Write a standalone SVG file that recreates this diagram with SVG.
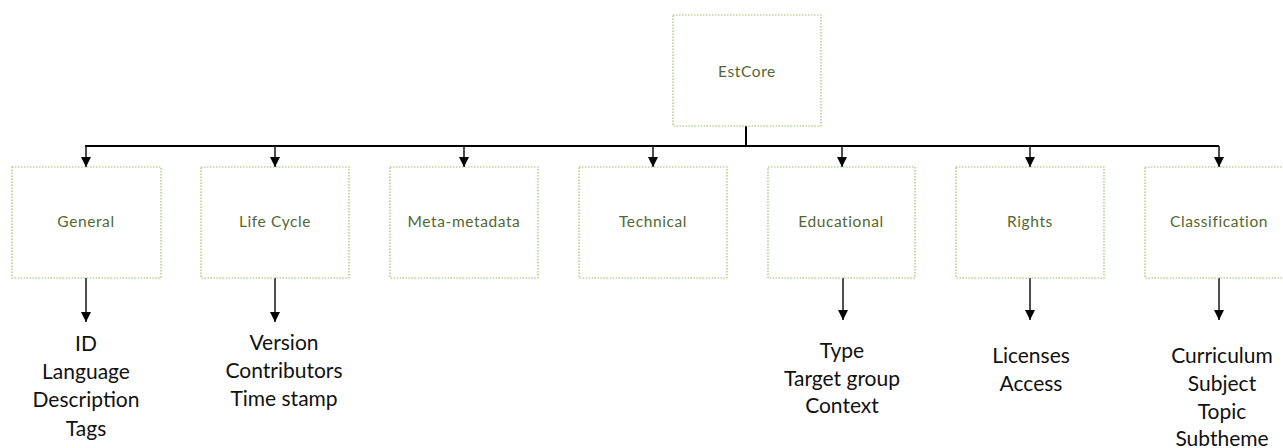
<svg xmlns="http://www.w3.org/2000/svg" width="1283" height="448" viewBox="0 0 1283 448">
  <style>
    .box { fill: #ffffff; stroke: #9cc161; stroke-width: 1.2; stroke-dasharray: 1.5 1.5; }
    .lbl { font-family: Lato, "Open Sans", sans-serif; font-size: 15.5px; letter-spacing: 0.6px; fill: #536733; text-anchor: middle; }
    .item { font-family: Lato, "Open Sans", sans-serif; font-size: 21px; fill: #111111; text-anchor: middle; }
    .bus { stroke: #000000; stroke-width: 2; fill: none; }
    .arr { stroke: #222222; stroke-width: 1.6; fill: none; marker-end: url(#head); }
  </style>
  <defs>
    <marker id="head" viewBox="0 0 10 10" refX="10" refY="5" markerWidth="10" markerHeight="10" markerUnits="userSpaceOnUse" orient="auto">
      <path d="M0,0 L10,5 L0,10 Z" fill="#000000"/>
    </marker>
  </defs>
  <rect width="1283" height="448" fill="#ffffff"/>

  <g id="connectors">
    <line class="bus" x1="746" y1="126" x2="746" y2="146"/>
    <line class="bus" x1="85" y1="146" x2="1219" y2="146"/>
    <line class="arr" x1="86" y1="146" x2="86" y2="167"/>
    <line class="arr" x1="275" y1="146" x2="275" y2="167"/>
    <line class="arr" x1="464" y1="146" x2="464" y2="167"/>
    <line class="arr" x1="653" y1="146" x2="653" y2="167"/>
    <line class="arr" x1="842" y1="146" x2="842" y2="167"/>
    <line class="arr" x1="1030" y1="146" x2="1030" y2="167"/>
    <line class="arr" x1="1219" y1="146" x2="1219" y2="167"/>
    <line class="arr" x1="86" y1="278" x2="86" y2="322"/>
    <line class="arr" x1="275" y1="278" x2="275" y2="322"/>
    <line class="arr" x1="843" y1="278" x2="843" y2="320"/>
    <line class="arr" x1="1030" y1="278" x2="1030" y2="320"/>
    <line class="arr" x1="1219" y1="278" x2="1219" y2="320"/>
  </g>

  <g id="estcore">
    <rect class="box" x="673" y="15" width="148" height="111"/>
    <text class="lbl" x="747" y="77">EstCore</text>
  </g>

  <g id="general">
    <rect class="box" x="12" y="167" width="149" height="111"/>
    <text class="lbl" x="86" y="227">General</text>
    <text class="item" x="86" y="351">ID</text>
    <text class="item" x="86" y="379">Language</text>
    <text class="item" x="86" y="407">Description</text>
    <text class="item" x="86" y="436">Tags</text>
  </g>

  <g id="life-cycle">
    <rect class="box" x="201" y="167" width="148" height="111"/>
    <text class="lbl" x="275" y="227">Life Cycle</text>
    <text class="item" x="284" y="350">Version</text>
    <text class="item" x="284" y="378">Contributors</text>
    <text class="item" x="284" y="406">Time stamp</text>
  </g>

  <g id="meta-metadata">
    <rect class="box" x="390" y="167" width="148" height="111"/>
    <text class="lbl" x="464" y="227">Meta-metadata</text>
  </g>

  <g id="technical">
    <rect class="box" x="579" y="167" width="148" height="111"/>
    <text class="lbl" x="653" y="227">Technical</text>
  </g>

  <g id="educational">
    <rect class="box" x="768" y="167" width="147" height="111"/>
    <text class="lbl" x="841" y="227">Educational</text>
    <text class="item" x="842" y="358">Type</text>
    <text class="item" x="842" y="386">Target group</text>
    <text class="item" x="842" y="413">Context</text>
  </g>

  <g id="rights">
    <rect class="box" x="956" y="167" width="148" height="111"/>
    <text class="lbl" x="1030" y="227">Rights</text>
    <text class="item" x="1031" y="363">Licenses</text>
    <text class="item" x="1031" y="391">Access</text>
  </g>

  <g id="classification">
    <rect class="box" x="1145" y="167" width="148" height="111"/>
    <text class="lbl" x="1219" y="227">Classification</text>
    <text class="item" x="1222" y="363">Curriculum</text>
    <text class="item" x="1222" y="391">Subject</text>
    <text class="item" x="1222" y="419">Topic</text>
    <text class="item" x="1222" y="446">Subtheme</text>
  </g>
</svg>
